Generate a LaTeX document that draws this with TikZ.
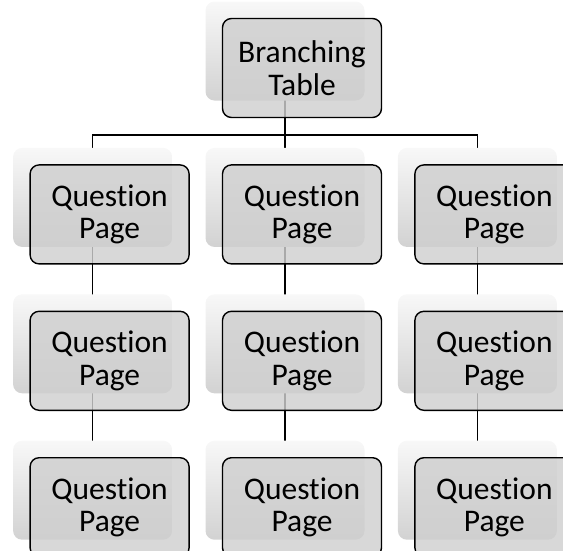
\documentclass[tikz,border=0pt]{standalone}
\usepackage{fontspec}
\setmainfont[Ligatures={NoCommon}]{Carlito}
\usetikzlibrary{positioning,calc}
\definecolor{CardGrey}{HTML}{CFCFCF}
\definecolor{BackTop}{HTML}{F8F8F8}
\definecolor{BackBottom}{HTML}{D2D2D2}
\pgfdeclarelayer{links}
\pgfdeclarelayer{backs}
\pgfsetlayers{links,backs,main}

\begin{document}
\begin{tikzpicture}[
    x=1pt,y=1pt,
    node distance=46pt and 32pt,
    every node/.style={font=\fontsize{31.5}{32.5}\selectfont},
    card/.style={draw=black,line width=1.4pt,rounded corners=9pt,fill=CardGrey,fill opacity=0.82,text opacity=1,minimum width=159pt,minimum height=99pt,inner sep=0pt,align=center},
    backcard/.style={rounded corners=9pt,top color=BackTop,bottom color=BackBottom,minimum width=159pt,minimum height=99pt,inner sep=0pt},
    link/.style={black,line width=1.4pt}
  ]
  \useasboundingbox (0,0) rectangle (563,-550);
  \clip (0,0) rectangle (563,-550);
  % front cards
  \node[card] (root) at (302,-68) {Branching\\Table};
  \node[card,below=of root] (q12) {Question\\Page};
  \node[card,left=of q12] (q11) {Question\\Page};
  \node[card,right=of q12] (q13) {Question\\Page};
  \node[card,below=of q11] (q21) {Question\\Page};
  \node[card,below=of q12] (q22) {Question\\Page};
  \node[card,below=of q13] (q23) {Question\\Page};
  \node[card,below=of q21] (q31) {Question\\Page};
  \node[card,below=of q22] (q32) {Question\\Page};
  \node[card,below=of q23] (q33) {Question\\Page};
  % back cards
  \begin{pgfonlayer}{backs}
    \foreach \n in {root,q11,q12,q13,q21,q22,q23,q31,q32,q33}
      \node[backcard] (b\n) at ($(\n.center)+(-17,17)$) {};
  \end{pgfonlayer}
  % connectors
  \begin{pgfonlayer}{links}
    \coordinate (bus) at (0,-135);
    \draw[link] (broot.center) -- (broot.center |- bus) -| (bq11.center);
    \draw[link] (broot.center |- bus) -| (bq13.center);
    \draw[link] (broot.center) -- (bq12.center);
    \foreach \c in {1,2,3}
      \draw[link] (bq1\c.center) -- (bq3\c.center);
  \end{pgfonlayer}
\end{tikzpicture}
\end{document}
